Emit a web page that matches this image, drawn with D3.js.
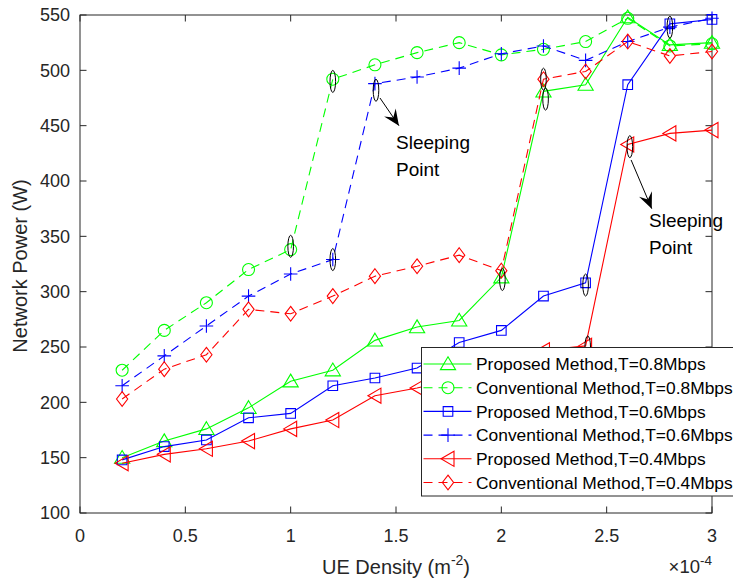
<!DOCTYPE html>
<meta charset="utf-8">
<style>
    body { margin: 0; background: #fff; }
    svg { display: block; font-family: "Liberation Sans", Arial, Helvetica, sans-serif; }
    .axis-line { stroke: #262626; stroke-width: 1; fill: none; }
    .tick-label { fill: #262626; font-size: 18px; }
    .series path.line { fill: none; stroke-width: 1.1; }
    .marker { fill: none; stroke-width: 1.1; }
    .note { fill: #000; font-size: 19px; }
</style>
<svg width="733" height="579"></svg>
<script src="https://cdn.jsdelivr.net/npm/d3@7"></script>
<script>

    // UE density (x 1e-4 m^-2)
    var ueDensity = [0.2, 0.4, 0.6, 0.8, 1.0, 1.2, 1.4, 1.6, 1.8, 2.0, 2.2, 2.4, 2.6, 2.8, 3.0];

    // network power (W)
    var proposed08     = [150, 165, 176, 195, 219, 229, 256, 268, 274, 313, 481, 487, 548, 523, 525];
    var conventional08 = [229, 265, 290, 320, 338, 492, 505, 516, 525, 514, 519, 526, 547, 522, 524];
    var proposed06     = [148, 160, 166, 186, 190, 215, 222, 231, 254, 265, 296, 308, 487, 542, 546];
    var conventional06 = [215, 242, 269, 296, 316, 329, 488, 494, 502, 515, 522, 509, 526, 539, 547];
    var proposed04     = [145, 153, 158, 165, 176, 184, 206, 213, 222, 233, 247, 251, 433, 443, 446];
    var conventional04 = [203, 230, 243, 284, 280, 296, 314, 323, 333, 319, 492, 499, 526, 513, 517];

    var xTicks = [0, 0.5, 1, 1.5, 2, 2.5, 3];
    var yTicks = [100, 150, 200, 250, 300, 350, 400, 450, 500, 550];

    var seriesNames = [
        "Proposed Method,T=0.8Mbps",
        "Conventional Method,T=0.8Mbps",
        "Proposed Method,T=0.6Mbps",
        "Conventional Method,T=0.6Mbps",
        "Proposed Method,T=0.4Mbps",
        "Conventional Method,T=0.4Mbps"
    ];

    // sleeping points marked with small ellipses [x, power]
    var sleepMarks = [[1.0, 341], [1.2, 490], [1.2, 329], [1.405, 482], [2.005, 311],
                      [2.2, 492], [2.21, 474], [2.4, 306], [2.41, 250], [2.61, 431], [2.8, 539]];

    var svg = d3.select("svg"),
        width = +svg.attr("width"),
        height = +svg.attr("height");

    var x = d3.scaleLinear().domain([0, 3]).range([80, 712]);
    var y = d3.scaleLinear().domain([100, 550]).range([513, 15]);

    var series = [
        { name: seriesNames[0], values: proposed08,     color: "#00ff00", dash: null,  marker: "up" },
        { name: seriesNames[1], values: conventional08, color: "#00ff00", dash: "9,6", marker: "circle" },
        { name: seriesNames[2], values: proposed06,     color: "#0000ff", dash: null,  marker: "square" },
        { name: seriesNames[3], values: conventional06, color: "#0000ff", dash: "9,6", marker: "plus" },
        { name: seriesNames[4], values: proposed04,     color: "#ff0000", dash: null,  marker: "left" },
        { name: seriesNames[5], values: conventional04, color: "#ff0000", dash: "9,6", marker: "diamond" }
    ];

    function markerPath(type) {
        switch (type) {
            case "up":      return "M0,-7.2L7.6,5.6L-7.6,5.6Z";
            case "left":    return "M-7,0L6,-7.6L6,7.6Z";
            case "square":  return "M-4.8,-4.8H4.8V4.8H-4.8Z";
            case "diamond": return "M0,-7.4L5.6,0L0,7.4L-5.6,0Z";
            case "plus":    return "M-6.8,0H6.8M0,-6.8V6.8";
            case "circle":  return "M6,0A6,6 0 1,1 -6,0A6,6 0 1,1 6,0Z";
        }
    }

    // axes box with inward ticks on all four sides
    var axes = svg.append("g");
    axes.append("rect").attr("class", "axis-line")
        .attr("x", x(0)).attr("y", y(550))
        .attr("width", x(3) - x(0)).attr("height", y(100) - y(550));

    xTicks.forEach(function(t) {
        axes.append("line").attr("class", "axis-line")
            .attr("x1", x(t)).attr("x2", x(t)).attr("y1", y(100)).attr("y2", y(100) - 6.5);
        axes.append("line").attr("class", "axis-line")
            .attr("x1", x(t)).attr("x2", x(t)).attr("y1", y(550)).attr("y2", y(550) + 6.5);
        axes.append("text").attr("class", "tick-label")
            .attr("x", x(t)).attr("y", 542)
            .attr("text-anchor", "middle")
            .text(t);
    });

    yTicks.forEach(function(t) {
        axes.append("line").attr("class", "axis-line")
            .attr("x1", x(0)).attr("x2", x(0) + 6.5).attr("y1", y(t)).attr("y2", y(t));
        axes.append("line").attr("class", "axis-line")
            .attr("x1", x(3)).attr("x2", x(3) - 6.5).attr("y1", y(t)).attr("y2", y(t));
        axes.append("text").attr("class", "tick-label")
            .attr("x", 70).attr("y", y(t) + 6.3)
            .attr("text-anchor", "end")
            .text(t);
    });

    // axis labels
    var xl = svg.append("text").attr("fill", "#262626").attr("font-size", "20px")
        .attr("x", (x(0) + x(3)) / 2).attr("y", 574).attr("text-anchor", "middle");
    xl.append("tspan").text("UE Density (m");
    xl.append("tspan").attr("dy", -9).attr("font-size", "14px").text("-2");
    xl.append("tspan").attr("dy", 9).text(")");

    svg.append("text").attr("fill", "#262626").attr("font-size", "20px")
        .attr("transform", "translate(27," + ((y(100) + y(550)) / 2 + 2) + ") rotate(-90)")
        .attr("text-anchor", "middle")
        .text("Network Power (W)");

    var ex = svg.append("text").attr("fill", "#262626").attr("font-size", "18.5px")
        .attr("x", 712).attr("y", 573).attr("text-anchor", "end");
    ex.append("tspan").text("\u00d710");
    ex.append("tspan").attr("dy", -8).attr("font-size", "13.5px").text("-4");

    // series
    var line = d3.line()
        .x(function(d, i) { return x(ueDensity[i]); })
        .y(function(d) { return y(d); });

    series.forEach(function(s) {
        var g = svg.append("g").attr("class", "series");
        g.append("path").attr("class", "line")
            .attr("d", line(s.values))
            .attr("stroke", s.color)
            .attr("stroke-dasharray", s.dash);
        g.selectAll("path.marker")
            .data(s.values)
            .enter().append("path")
            .attr("class", "marker")
            .attr("stroke", s.color)
            .attr("transform", function(d, i) { return "translate(" + x(ueDensity[i]) + "," + y(d) + ")"; })
            .attr("d", markerPath(s.marker));
    });

    // sleeping point ellipses
    svg.append("g").selectAll("ellipse")
        .data(sleepMarks)
        .enter().append("ellipse")
        .attr("cx", function(d) { return x(d[0]); })
        .attr("cy", function(d) { return y(d[1]); })
        .attr("rx", 2.8).attr("ry", 11)
        .attr("fill", "none").attr("stroke", "#000").attr("stroke-width", 1);

    // annotation arrows + text
    function arrow(x1, y1, x2, y2) {
        var X1 = x(x1), Y1 = y(y1), X2 = x(x2), Y2 = y(y2);
        var ang = Math.atan2(Y2 - Y1, X2 - X1) * 180 / Math.PI;
        svg.append("line")
            .attr("x1", X1).attr("y1", Y1).attr("x2", X2).attr("y2", Y2)
            .attr("stroke", "#000").attr("stroke-width", 1);
        svg.append("path")
            .attr("transform", "translate(" + X2 + "," + Y2 + ") rotate(" + ang + ")")
            .attr("d", "M0,0L-16,-7L-10,0L-16,7Z")
            .attr("fill", "#000");
    }

    function note(xv, yv, lines) {
        var t = svg.append("text").attr("class", "note")
            .attr("x", x(xv)).attr("y", y(yv));
        lines.forEach(function(s, i) {
            t.append("tspan").attr("x", x(xv)).attr("dy", i ? 27 : 0).text(s);
        });
    }

    arrow(1.424, 475, 1.514, 450);
    note(1.5, 429, ["Sleeping", "Point"]);
    arrow(2.616, 419, 2.714, 375);
    note(2.701, 358, ["Sleeping", "Point"]);

    // legend
    var leg = svg.append("g").attr("transform", "translate(421.5,347.5)");
    leg.append("rect")
        .attr("width", 330).attr("height", 148.5)
        .attr("fill", "#fff").attr("stroke", "#262626").attr("stroke-width", 1);

    var row = leg.selectAll("g.row")
        .data(series)
        .enter().append("g")
        .attr("class", "row")
        .attr("transform", function(d, i) { return "translate(0," + (16.5 + i * 23.7) + ")"; });

    row.append("line")
        .attr("x1", 2).attr("x2", 50).attr("y1", 0).attr("y2", 0)
        .attr("stroke", function(d) { return d.color; })
        .attr("stroke-width", 1.1)
        .attr("stroke-dasharray", function(d) { return d.dash; });
    row.append("path")
        .attr("class", "marker")
        .attr("transform", "translate(26.5,0)")
        .attr("stroke", function(d) { return d.color; })
        .attr("d", function(d) { return markerPath(d.marker); });
    row.append("text")
        .attr("x", 54.5).attr("y", 6.2)
        .attr("font-size", "17.4px").attr("fill", "#000")
        .text(function(d) { return d.name; });

</script>
